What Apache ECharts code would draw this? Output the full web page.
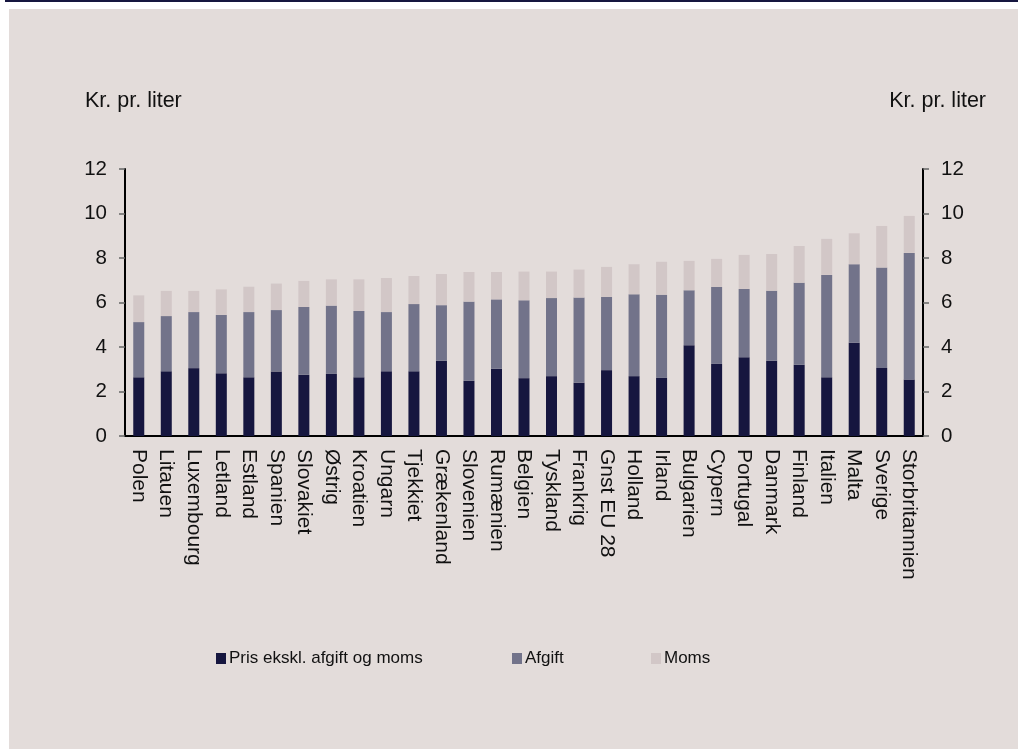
<!DOCTYPE html>
<html>
<head>
<meta charset="utf-8">
<script src="https://cdn.jsdelivr.net/npm/echarts@6/dist/echarts.min.js"></script>
<style>
html,body{margin:0;padding:0;background:#ffffff;}
#chart{width:1018px;height:751px;}
</style>
</head>
<body>
<div id="chart"></div>
<script>
const categories = ['Polen','Litauen','Luxembourg','Letland','Estland','Spanien','Slovakiet','Østrig','Kroatien','Ungarn','Tjekkiet','Grækenland','Slovenien','Rumænien','Belgien','Tyskland','Frankrig','Gnst EU 28','Holland','Irland','Bulgarien','Cypern','Portugal','Danmark','Finland','Italien','Malta','Sverige','Storbritannien'];
const pris   = [2.64,2.91,3.05,2.82,2.64,2.90,2.75,2.79,2.64,2.91,2.91,3.38,2.48,3.02,2.60,2.69,2.40,2.96,2.69,2.61,4.08,3.24,3.54,3.38,3.20,2.64,4.19,3.06,2.54];
const afgift = [2.48,2.48,2.52,2.62,2.93,2.76,3.05,3.07,2.98,2.66,3.02,2.50,3.56,3.12,3.50,3.51,3.82,3.29,3.68,3.74,2.47,3.46,3.07,3.15,3.69,4.60,3.53,4.51,5.69];
const moms   = [1.20,1.13,0.95,1.15,1.14,1.19,1.17,1.18,1.42,1.53,1.26,1.40,1.33,1.23,1.29,1.19,1.26,1.35,1.35,1.48,1.32,1.26,1.53,1.65,1.65,1.62,1.39,1.87,1.66];
const seriesNames = ['Pris ekskl. afgift og moms','Afgift','Moms'];
const yTicks = {min:0, max:12, interval:2};
const unitLabel = 'Kr. pr. liter';

const colors = ['#16163f','#72738a','#d2c7c7'];
const font = 'Liberation Sans, Arial, sans-serif';
const txt = '#111111';
const legendLefts = [216, 512, 651];

const chart = echarts.init(document.getElementById('chart'), null, {renderer:'canvas'});
const yAxisBase = {
  type:'value', min:yTicks.min, max:yTicks.max, interval:yTicks.interval,
  axisLine:{show:true, lineStyle:{color:'#000', width:2}},
  axisTick:{show:true, inside:false, length:6, lineStyle:{color:'#666', width:1.5}},
  splitLine:{show:false},
  axisLabel:{color:txt, fontFamily:font, fontSize:20.5, margin:18}
};
chart.setOption({
  backgroundColor:'#ffffff',
  animation:false,
  graphic:[
    {type:'rect', shape:{x:9,y:9,width:1009,height:740}, style:{fill:'#e3dcda'}, z:-10},
    {type:'rect', shape:{x:5,y:0,width:1013,height:2}, style:{fill:'#16163f'}, z:-10}
  ],
  title:[
    {text:unitLabel, left:85, top:90, textStyle:{color:txt, fontFamily:font, fontSize:21.5, fontWeight:'normal'}, padding:0},
    {text:unitLabel, right:32, top:90, textStyle:{color:txt, fontFamily:font, fontSize:21.5, fontWeight:'normal'}, padding:0}
  ],
  legend: seriesNames.map((n, i) => ({
    left:legendLefts[i], top:650, padding:0, itemWidth:10, itemHeight:11,
    icon:'rect',
    textStyle:{color:txt, fontFamily:font, fontSize:17, padding:[0,0,0,-2]},
    data:[n]
  })),
  grid:{left:125, right:95, top:169, height:267, containLabel:false},
  xAxis:{
    type:'category', data:categories,
    axisLine:{show:true, lineStyle:{color:'#000', width:2}},
    axisTick:{show:false},
    axisLabel:{rotate:-90, color:txt, fontFamily:font, fontSize:21, margin:13, interval:0}
  },
  yAxis:[
    Object.assign({position:'left'}, yAxisBase),
    Object.assign({position:'right'}, yAxisBase)
  ],
  series:[
    {name:seriesNames[0], type:'bar', stack:'a', data:pris, barWidth:'40%', itemStyle:{color:colors[0]}},
    {name:seriesNames[1], type:'bar', stack:'a', data:afgift, barWidth:'40%', itemStyle:{color:colors[1]}},
    {name:seriesNames[2], type:'bar', stack:'a', data:moms, barWidth:'40%', itemStyle:{color:colors[2]}}
  ]
});
</script>
</body>
</html>
